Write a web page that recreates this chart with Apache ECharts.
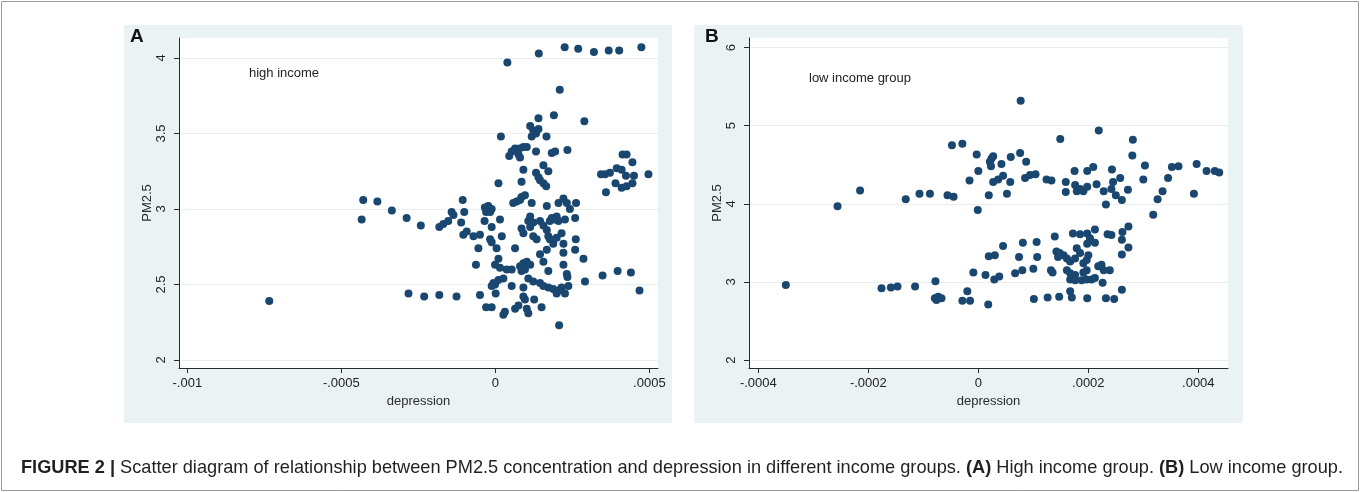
<!DOCTYPE html>
<html>
<head>
<meta charset="utf-8">
<script src="https://cdn.jsdelivr.net/npm/echarts@6/dist/echarts.min.js"></script>
<style>
  html, body { margin: 0; padding: 0; background: #fff; }
  #chart { width: 1360px; height: 492px; }
</style>
</head>
<body>
<div id="chart"></div>
<script>
const highIncome = [
  [-7.34, 2.39],
  [-4.34, 2.93], [-4.29, 3.06], [-3.83, 3.05], [-3.36, 2.99], [-2.88, 2.94], [-2.42, 2.89],
  [-2.82, 2.44], [-2.31, 2.42],
  [0.39, 3.97], [1.41, 4.03], [2.25, 4.07], [2.69, 4.06], [3.20, 4.04], [3.68, 4.05], [4.02, 4.05], [4.74, 4.07],
  [2.09, 3.79], [1.90, 3.62], [2.89, 3.58], [1.40, 3.60],
  [0.18, 3.48], [1.13, 3.55], [1.23, 3.52], [1.32, 3.50], [1.18, 3.48], [1.40, 3.53], [1.66, 3.48],
  [0.53, 3.38], [0.45, 3.35], [0.64, 3.40], [0.78, 3.40], [0.91, 3.41], [1.02, 3.41], [0.75, 3.36], [0.80, 3.34],
  [1.32, 3.38], [1.83, 3.37], [1.94, 3.38], [2.34, 3.39],
  [0.91, 3.26], [0.85, 3.18], [0.10, 3.17], [1.32, 3.24], [1.40, 3.21], [1.45, 3.19], [1.56, 3.17], [1.65, 3.15],
  [1.56, 3.29], [1.72, 3.25],
  [3.43, 3.23], [3.56, 3.23], [3.72, 3.24], [4.13, 3.36], [4.26, 3.36], [4.45, 3.31], [3.94, 3.27], [4.10, 3.26],
  [4.24, 3.22], [4.50, 3.22], [4.97, 3.23], [3.90, 3.17], [4.10, 3.14], [4.26, 3.15], [4.45, 3.17], [3.59, 3.11],
  [-1.06, 3.06], [-1.42, 2.98], [-1.36, 2.96], [-1.53, 2.92], [-1.69, 2.90], [-1.82, 2.88], [-1.01, 2.98], [-1.11, 2.91],
  [-0.34, 3.01], [-0.23, 3.02], [-0.12, 3.00], [-0.17, 2.98], [-0.30, 2.98], [-0.35, 2.92], [-0.12, 2.88], [0.15, 2.93],
  [0.58, 3.04], [0.69, 3.05], [0.85, 3.08], [0.96, 3.09], [0.80, 3.06], [1.18, 3.04], [1.67, 3.02], [2.05, 3.04],
  [2.21, 3.07], [2.32, 3.04], [2.42, 3.00], [2.62, 3.04],
  [1.13, 2.95], [1.07, 2.92], [0.85, 2.87], [0.91, 2.84], [1.13, 2.88], [1.23, 2.91], [1.45, 2.92], [1.56, 2.89],
  [1.67, 2.86], [1.77, 2.92], [1.83, 2.94], [1.94, 2.93], [1.99, 2.95], [2.05, 2.92], [2.26, 2.93], [2.59, 2.94],
  [-1.04, 2.83], [-0.93, 2.85], [-0.71, 2.82], [-0.50, 2.83], [-0.17, 2.80], [-0.12, 2.78], [0.04, 2.74], [-0.55, 2.74],
  [0.21, 2.82], [0.64, 2.74],
  [1.23, 2.82], [1.34, 2.80], [1.72, 2.82], [1.77, 2.80], [1.88, 2.77], [1.99, 2.81], [2.15, 2.84], [2.21, 2.77],
  [2.61, 2.80], [2.59, 2.73], [2.86, 2.67], [2.21, 2.71], [1.67, 2.73], [1.45, 2.70], [1.56, 2.65],
  [0.10, 2.67], [-0.01, 2.63], [0.15, 2.61], [0.37, 2.60], [0.53, 2.60], [0.80, 2.62], [0.91, 2.64], [1.02, 2.65],
  [1.13, 2.63], [0.96, 2.60], [0.85, 2.59], [1.72, 2.59], [2.21, 2.63], [2.32, 2.57], [2.34, 2.55],
  [-0.63, 2.63], [-0.06, 2.51], [-0.01, 2.50], [-0.12, 2.49], [0.10, 2.53], [0.26, 2.54], [0.53, 2.49], [0.91, 2.48],
  [1.07, 2.54], [1.23, 2.52], [1.45, 2.51], [1.56, 2.49], [1.72, 2.48], [1.88, 2.47], [2.05, 2.46], [2.15, 2.48],
  [2.37, 2.49], [2.91, 2.52], [3.48, 2.56], [3.97, 2.59], [4.40, 2.58], [4.68, 2.46],
  [-1.82, 2.43], [-1.26, 2.42], [-0.50, 2.43], [0.01, 2.44], [0.91, 2.42], [2.26, 2.44], [1.99, 2.44],
  [-0.30, 2.35], [-0.12, 2.35], [0.31, 2.32], [0.26, 2.30], [0.64, 2.34], [0.75, 2.36], [1.02, 2.34], [1.07, 2.31],
  [1.26, 2.40], [1.50, 2.35], [0.96, 2.40], [2.07, 2.23]
];

const lowIncome = [
  [-3.50, 2.96],
  [-2.56, 3.97], [-2.15, 4.17], [-1.32, 4.06], [-1.07, 4.13], [-0.88, 4.13], [-0.56, 4.11], [-0.45, 4.09],
  [-0.48, 4.75], [-0.29, 4.77], [-0.03, 4.63], [0.24, 4.58], [0.27, 4.61], [0.21, 4.54], [0.23, 4.48], [0.42, 4.51],
  [0.59, 4.60], [0.76, 4.65], [0.87, 4.54],
  [0.77, 5.32], [2.19, 4.94], [1.49, 4.83], [2.81, 4.82], [2.80, 4.62],
  [0.00, 4.42], [-0.16, 4.30], [0.27, 4.28], [0.36, 4.31], [0.45, 4.36], [0.58, 4.28], [0.19, 4.11], [0.52, 4.13],
  [-0.01, 3.92],
  [0.85, 4.33], [0.94, 4.37], [1.04, 4.38], [1.24, 4.31], [1.33, 4.30], [1.75, 4.42], [1.98, 4.42], [2.09, 4.47],
  [2.43, 4.44],
  [1.59, 4.28], [1.76, 4.24], [1.85, 4.19], [1.98, 4.22], [1.91, 4.16], [1.79, 4.16], [1.59, 4.15], [2.15, 4.25],
  [2.28, 4.16], [2.45, 4.28], [2.58, 4.33], [2.42, 4.19], [2.50, 4.11], [2.61, 4.05], [2.32, 3.99], [2.72, 4.18],
  [3.00, 4.31], [3.03, 4.49], [3.45, 4.33], [3.52, 4.47], [3.64, 4.48], [3.97, 4.51], [4.15, 4.42], [4.30, 4.42],
  [4.38, 4.40], [3.92, 4.13], [3.35, 4.16], [3.26, 4.06], [3.18, 3.86],
  [1.39, 3.58], [1.72, 3.62], [1.85, 3.61], [1.98, 3.62], [2.12, 3.67], [2.03, 3.56], [1.98, 3.49], [2.12, 3.50],
  [2.35, 3.61], [2.42, 3.60], [2.62, 3.64], [2.73, 3.71], [2.61, 3.54], [2.73, 3.44], [2.61, 3.35],
  [0.45, 3.46], [0.81, 3.50], [1.06, 3.51], [0.19, 3.33], [0.30, 3.34], [0.74, 3.32], [1.07, 3.32],
  [1.42, 3.39], [1.48, 3.37], [1.55, 3.34], [1.45, 3.32], [1.61, 3.30], [1.67, 3.26], [1.76, 3.30], [1.79, 3.43],
  [1.85, 3.37], [1.91, 3.24], [1.97, 3.28], [2.00, 3.34],
  [1.61, 3.15], [1.67, 3.11], [1.76, 3.09], [1.91, 3.12], [1.97, 3.15],
  [1.67, 3.03], [1.76, 3.02], [1.88, 3.02], [1.97, 3.03], [2.06, 3.03], [2.12, 3.05],
  [2.18, 3.20], [2.24, 3.22], [2.28, 3.15], [2.39, 3.15], [2.26, 2.99],
  [1.32, 3.15], [1.35, 3.12], [1.00, 3.17], [0.80, 3.15], [0.67, 3.11], [-0.09, 3.12], [0.13, 3.09], [0.29, 3.03],
  [0.38, 3.07], [-0.78, 3.01],
  [-1.76, 2.92], [-1.59, 2.93], [-1.47, 2.94], [-1.15, 2.94],
  [-0.79, 2.79], [-0.73, 2.81], [-0.67, 2.79], [-0.76, 2.77], [-0.29, 2.76], [-0.15, 2.76], [-0.20, 2.88], [0.18, 2.71],
  [1.01, 2.78], [1.26, 2.80], [1.47, 2.81], [1.67, 2.88], [1.70, 2.80], [1.98, 2.79], [2.32, 2.79], [2.47, 2.78],
  [2.61, 2.90]
];

const xTicksA = [-0.001, -0.0005, 0, 0.0005];
const xTickLabelsA = ['-.001', '-.0005', '0', '.0005'];
const yTicksA = [2, 2.5, 3, 3.5, 4];

const xTicksB = [-0.0004, -0.0002, 0, 0.0002, 0.0004];
const xTickLabelsB = ['-.0004', '-.0002', '0', '.0002', '.0004'];
const yTicksB = [2, 3, 4, 5, 6];

const FONT = "'Liberation Sans', Arial, sans-serif";
const NAVY = '#1a476f';
const AXIS = '#2b2b2b';

const toPoints = (rows) => rows.map(([d, pm]) => [d * 1e-4, pm]);

function tickLabel(ticks, labels) {
  return (v) => {
    const i = ticks.findIndex((t) => Math.abs(t - v) < 1e-9);
    return i >= 0 ? labels[i] : '';
  };
}

function xAxisFor(gridIndex, min, max, ticks, labels) {
  return {
    type: 'value',
    gridIndex,
    min,
    max,
    name: 'depression',
    nameLocation: 'middle',
    nameGap: 23,
    nameTextStyle: { color: AXIS, fontSize: 13, fontFamily: FONT },
    axisLine: { show: true, onZero: false, lineStyle: { color: AXIS, width: 1 } },
    axisTick: { show: true, length: 5, customValues: ticks, lineStyle: { color: AXIS } },
    axisLabel: {
      customValues: ticks,
      margin: 9,
      color: '#222',
      fontSize: 13,
      fontFamily: FONT,
      formatter: tickLabel(ticks, labels),
    },
    splitLine: { show: false },
  }
}

function yAxisFor(gridIndex, min, max, ticks) {
  return {
    type: 'value',
    gridIndex,
    min,
    max,
    name: 'PM2.5',
    nameLocation: 'middle',
    nameRotate: 90,
    nameGap: 25,
    nameTextStyle: { color: AXIS, fontSize: 13, fontFamily: FONT },
    axisLine: { show: true, onZero: false, lineStyle: { color: AXIS, width: 1 } },
    axisTick: { show: true, length: 5, customValues: ticks, lineStyle: { color: AXIS } },
    axisLabel: {
      customValues: ticks,
      rotate: 90,
      margin: 11,
      color: '#222',
      fontSize: 13,
      fontFamily: FONT,
      formatter: (v) => String(v),
    },
    splitLine: { show: true, lineStyle: { color: '#e9eff1', width: 1 } },
  }
}

const chart = echarts.init(document.getElementById('chart'), null, { renderer: 'canvas' });

const option = {
  animation: false,
  backgroundColor: '#ffffff',
  grid: [
    { left: 179, top: 38, width: 479, height: 330, show: true, backgroundColor: '#ffffff', borderWidth: 0 },
    { left: 749, top: 38, width: 479, height: 330, show: true, backgroundColor: '#ffffff', borderWidth: 0 },
  ],
  xAxis: [
    xAxisFor(0, -0.001027, 0.000528, xTicksA, xTickLabelsA),
    xAxisFor(1, -0.000417, 0.000454, xTicksB, xTickLabelsB),
  ],
  yAxis: [
    yAxisFor(0, 1.947, 4.132, yTicksA),
    yAxisFor(1, 1.898, 6.123, yTicksB),
  ],
  series: [
    {
      name: 'high income',
      type: 'scatter',
      xAxisIndex: 0,
      yAxisIndex: 0,
      symbol: 'circle',
      symbolSize: 8,
      itemStyle: { color: NAVY, opacity: 1 },
      data: toPoints(highIncome),
    },
    {
      name: 'low income group',
      type: 'scatter',
      xAxisIndex: 1,
      yAxisIndex: 1,
      symbol: 'circle',
      symbolSize: 8,
      itemStyle: { color: NAVY, opacity: 1 },
      data: toPoints(lowIncome),
    },
  ],
  graphic: [
    {
      type: 'rect', z: -10, silent: true,
      shape: { x: 1.5, y: 1.5, width: 1357, height: 489 },
      style: { fill: 'none', stroke: '#9c9c9c', lineWidth: 1 },
    },
    { type: 'rect', z: -10, silent: true, shape: { x: 124, y: 25, width: 548, height: 398 }, style: { fill: '#eaf2f3' } },
    { type: 'rect', z: -10, silent: true, shape: { x: 694, y: 25, width: 549, height: 398 }, style: { fill: '#eaf2f3' } },
    {
      type: 'text', left: 130, top: 27, silent: true,
      style: { text: 'A', fill: '#111', font: `bold 19px ${FONT}` },
    },
    {
      type: 'text', left: 705, top: 27, silent: true,
      style: { text: 'B', fill: '#111', font: `bold 19px ${FONT}` },
    },
    {
      type: 'text', left: 249, top: 67, silent: true,
      style: { text: 'high income', fill: '#222', font: `13px ${FONT}` },
    },
    {
      type: 'text', left: 809, top: 72, silent: true,
      style: { text: 'low income group', fill: '#222', font: `13px ${FONT}` },
    },
    {
      type: 'text', left: 21, top: 459, silent: true,
      style: {
        text: '{b|FIGURE 2 |} Scatter diagram of relationship between PM2.5 concentration and depression in different income groups. {b|(A)} High income group. {b|(B)} Low income group.',
        fill: '#231f20',
        font: `18.2px ${FONT}`,
        rich: {
          b: { fontWeight: 'bold', fontSize: 18.2, fontFamily: FONT, fill: '#231f20' },
        },
      },
    },
  ],
};

chart.setOption(option);
</script>
</body>
</html>
